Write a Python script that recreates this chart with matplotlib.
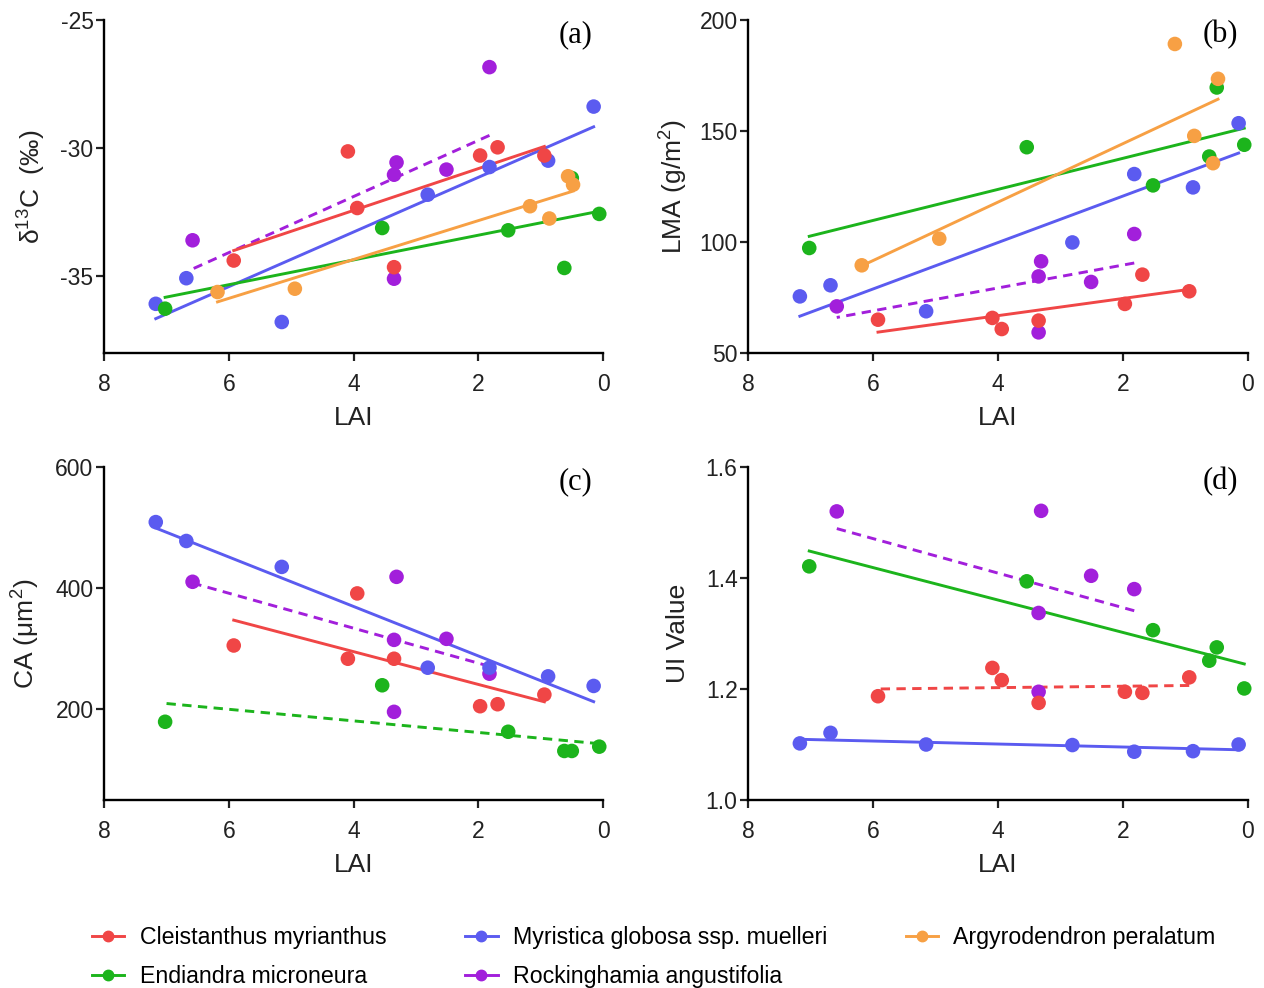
import numpy as np
import matplotlib
matplotlib.use("Agg")
import matplotlib.pyplot as plt
from matplotlib.lines import Line2D

plt.rcParams["font.family"] = ["Liberation Sans", "DejaVu Sans"]
plt.rcParams["mathtext.fontset"] = "custom"
plt.rcParams["mathtext.rm"] = "Liberation Sans"
plt.rcParams["mathtext.it"] = "Liberation Sans:italic"

# ---- species and colours ----
species = ["Cleistanthus myrianthus", "Endiandra microneura",
           "Myristica globosa ssp. muelleri", "Rockinghamia angustifolia",
           "Argyrodendron peralatum"]
colors = {"Cleistanthus myrianthus": "#F04646",
          "Endiandra microneura": "#1CB41C",
          "Myristica globosa ssp. muelleri": "#5B5BF0",
          "Rockinghamia angustifolia": "#A21FDB",
          "Argyrodendron peralatum": "#F7A044"}

# ---- leaf area index of each sampled tree ----
lai_cleist = [5.92, 4.09, 3.94, 3.35, 1.97, 1.69, 0.94]
lai_endi = [7.02, 3.54, 1.52, 0.62, 0.50, 0.06]
lai_myri = [7.17, 6.68, 5.15, 2.81, 1.82, 0.88, 0.15]
lai_rock = [6.58, 3.31, 3.35, 3.35, 2.51, 1.82]
lai_argy = [6.18, 4.94, 1.17, 0.86, 0.56, 0.48]

# ---- (a) delta 13C ----
d13c_cleist = [-34.39, -30.13, -32.34, -34.65, -30.29, -29.97, -30.29]
d13c_endi = [-36.27, -33.12, -33.21, -34.68, -31.17, -32.57]
d13c_myri = [-36.08, -35.08, -36.79, -31.82, -30.74, -30.49, -28.38]
d13c_rock = [-33.60, -30.56, -31.04, -35.10, -30.84, -26.84]
d13c_argy = [-35.62, -35.49, -32.27, -32.75, -31.10, -31.43]

# ---- (b) leaf mass per area ----
lma_cleist = [65.0, 65.8, 60.8, 64.6, 72.1, 85.3, 77.8]
lma_endi = [97.3, 142.7, 125.5, 138.5, 169.6, 143.8]
lma_myri = [75.5, 80.5, 68.8, 99.8, 130.6, 124.6, 153.5]
lma_rock = [71.0, 91.3, 84.5, 59.3, 82.0, 103.6]
lma_argy = [89.5, 101.5, 189.2, 147.8, 135.5, 173.5]

# ---- (c) cell area ----
ca_cleist = [305.2, 283.3, 391.2, 283.3, 204.9, 208.2, 224.1]
ca_endi = [179.2, 239.5, 162.7, 131.0, 131.0, 138.1]
ca_myri = [509.0, 477.8, 435.0, 268.5, 268.5, 254.2, 238.4]
ca_rock = [410.4, 418.6, 314.5, 195.6, 316.2, 258.6]

# ---- (d) undulation index ----
ui_cleist = [1.187, 1.238, 1.216, 1.175, 1.195, 1.193, 1.221]
ui_endi = [1.421, 1.394, 1.306, 1.251, 1.275, 1.201]
ui_myri = [1.102, 1.121, 1.100, 1.099, 1.087, 1.088, 1.100]
ui_rock = [1.520, 1.521, 1.337, 1.195, 1.404, 1.380]

lai = {"Cleistanthus myrianthus": lai_cleist, "Endiandra microneura": lai_endi,
       "Myristica globosa ssp. muelleri": lai_myri,
       "Rockinghamia angustifolia": lai_rock, "Argyrodendron peralatum": lai_argy}

panels = [
    dict(tag="(a)", ylabel="δ$^{13}$C  (‰)", ylim=(-38, -25), yticks=[-35, -30, -25],
         fmt="{:.0f}",
         data={"Cleistanthus myrianthus": d13c_cleist, "Endiandra microneura": d13c_endi,
               "Myristica globosa ssp. muelleri": d13c_myri,
               "Rockinghamia angustifolia": d13c_rock,
               "Argyrodendron peralatum": d13c_argy},
         dashed={"Rockinghamia angustifolia"}),
    dict(tag="(b)", ylabel="LMA (g/m$^2$)", ylim=(50, 200), yticks=[50, 100, 150, 200],
         fmt="{:.0f}",
         data={"Cleistanthus myrianthus": lma_cleist, "Endiandra microneura": lma_endi,
               "Myristica globosa ssp. muelleri": lma_myri,
               "Rockinghamia angustifolia": lma_rock,
               "Argyrodendron peralatum": lma_argy},
         dashed={"Rockinghamia angustifolia"}),
    dict(tag="(c)", ylabel="CA (μm$^2$)", ylim=(50, 600), yticks=[200, 400, 600],
         fmt="{:.0f}",
         data={"Cleistanthus myrianthus": ca_cleist, "Endiandra microneura": ca_endi,
               "Myristica globosa ssp. muelleri": ca_myri,
               "Rockinghamia angustifolia": ca_rock},
         dashed={"Rockinghamia angustifolia", "Endiandra microneura"}),
    dict(tag="(d)", ylabel="UI Value", ylim=(1.0, 1.6), yticks=[1.0, 1.2, 1.4, 1.6],
         fmt="{:.1f}",
         data={"Cleistanthus myrianthus": ui_cleist, "Endiandra microneura": ui_endi,
               "Myristica globosa ssp. muelleri": ui_myri,
               "Rockinghamia angustifolia": ui_rock},
         dashed={"Rockinghamia angustifolia", "Cleistanthus myrianthus"}),
]

W, H = 1264, 988
fig = plt.figure(figsize=(W / 100, H / 100), dpi=100)

# axes boxes in pixels: left, top, right, bottom
boxes = [(104, 20, 603, 353), (748, 20, 1248, 353),
         (104, 467, 603, 800), (748, 467, 1248, 800)]
ylab_x = [-0.112, -0.116, -0.124, -0.116]

draw_order = ["Rockinghamia angustifolia", "Myristica globosa ssp. muelleri",
              "Endiandra microneura", "Cleistanthus myrianthus",
              "Argyrodendron peralatum"]

for i, (p, (l, t, r, b)) in enumerate(zip(panels, boxes)):
    ax = fig.add_axes([l / W, 1 - b / H, (r - l) / W, (b - t) / H])
    for sp in draw_order:
        if sp not in p["data"]:
            continue
        x = np.array(lai[sp])
        y = np.array(p["data"][sp])
        c = colors[sp]
        k, c0 = np.polyfit(x, y, 1)
        xs = np.array([x.min(), x.max()])
        ls = (0, (3.2, 2.2)) if sp in p["dashed"] else "-"
        ax.plot(xs, k * xs + c0, color=c, lw=2.1, linestyle=ls, zorder=2)
        ax.scatter(x, y, s=110, color=c, edgecolors="none", zorder=3, clip_on=False)

    ax.set_xlim(8, 0)
    ax.set_ylim(*p["ylim"])
    ax.set_xticks([8, 6, 4, 2, 0])
    ax.set_yticks(p["yticks"])
    ax.set_yticklabels([p["fmt"].format(v) for v in p["yticks"]])
    for s in ["top", "right"]:
        ax.spines[s].set_visible(False)
    for s in ["left", "bottom"]:
        ax.spines[s].set_linewidth(1.7)
    ax.tick_params(direction="out", length=6, width=1.6, labelsize=16.5,
                   colors="#222222", labelcolor="#222222")
    ax.tick_params(axis="x", pad=8.5)
    ax.tick_params(axis="y", pad=1.5)
    ax.set_xlabel("LAI", fontsize=19, color="#222222")
    ax.xaxis.set_label_coords(0.5, -0.16)
    ax.set_ylabel(p["ylabel"], fontsize=19, color="#222222")
    ax.yaxis.set_label_coords(ylab_x[i], 0.5)
    ax.text(0.945, 0.955, p["tag"], transform=ax.transAxes, ha="center",
            va="center", fontsize=22, family="Liberation Serif")

handles = [Line2D([], [], color=colors[sp], lw=2.1, marker="o", markersize=7.5)
           for sp in species]
fig.legend(handles, species, ncol=3, loc="upper left",
           bbox_to_anchor=(92 / W, 1 - 926 / H), frameon=False, fontsize=16.7,
           handlelength=1.4, handletextpad=0.65, columnspacing=3.4,
           labelspacing=0.68, borderpad=0, borderaxespad=0)

fig.savefig("out.png", dpi=100)
